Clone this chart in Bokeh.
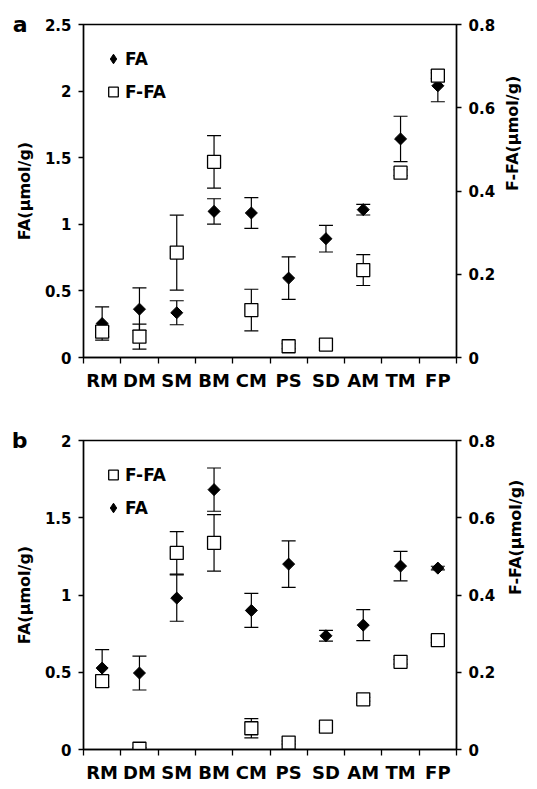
import math
from bokeh.plotting import figure
from bokeh.models import (Range1d, LinearAxis, FixedTicker, Whisker, TeeHead,
                          ColumnDataSource, Legend, LegendItem,
                          NumeralTickFormatter)
from bokeh.layouts import column
from bokeh.embed import file_html
from bokeh.resources import INLINE

categories = ["RM", "DM", "SM", "BM", "CM", "PS", "SD", "AM", "TM", "FP"]

# Panel a
a_fa = [0.255, 0.363, 0.336, 1.097, 1.085, 0.596, 0.892, 1.110, 1.641, 2.040]
a_fa_err = [0.125, 0.160, 0.090, 0.095, 0.115, 0.160, 0.100, 0.040, 0.170, 0.120]
a_ffa = [0.062, 0.050, 0.252, 0.470, 0.114, 0.027, 0.031, 0.210, 0.444, 0.677]
a_ffa_err = [0.012, 0.030, 0.090, 0.063, 0.050, 0.006, 0.006, 0.037, 0.007, 0.007]

# Panel b
b_fa = [0.527, 0.495, 0.980, 1.682, 0.900, 1.200, 0.736, 0.805, 1.187, 1.174]
b_fa_err = [0.120, 0.110, 0.150, 0.140, 0.110, 0.150, 0.035, 0.100, 0.095, 0.012]
b_ffa = [0.177, 0.002, 0.509, 0.535, 0.055, 0.018, 0.059, 0.130, 0.227, 0.283]
b_ffa_err = [0.015, 0.003, 0.055, 0.073, 0.025, 0.004, 0.004, 0.005, 0.006, 0.006]

a_fa_ticks = [0, 0.5, 1, 1.5, 2, 2.5]
b_fa_ticks = [0, 0.5, 1, 1.5, 2]
ffa_ticks = [0, 0.2, 0.4, 0.6, 0.8]

FONT = "DejaVu Sans"


def style_axis(ax, fs="15px"):
    ax.axis_line_color = "black"
    ax.axis_line_width = 1.5
    ax.major_tick_line_color = "black"
    ax.major_tick_line_width = 1.3
    ax.major_tick_in = 0
    ax.major_tick_out = 5
    ax.minor_tick_line_color = None
    ax.major_label_text_font = FONT
    ax.major_label_text_font_style = "bold"
    ax.major_label_text_font_size = fs
    ax.major_label_text_color = "black"
    ax.axis_label_text_font = FONT
    ax.axis_label_text_font_style = "bold"
    ax.axis_label_text_font_size = "16px"
    ax.axis_label_text_color = "black"


def text_axis(ax, fs, standoff):
    # an invisible axis used only to place one text label
    ax.axis_line_color = None
    ax.major_tick_line_color = None
    ax.minor_tick_line_color = None
    ax.major_tick_in = 0
    ax.major_tick_out = 0
    ax.major_label_standoff = standoff
    ax.major_label_text_font = FONT
    ax.major_label_text_font_style = "bold"
    ax.major_label_text_font_size = fs
    ax.major_label_text_color = "black"


def make_panel(letter, fa, fa_err, ffa, ffa_err, fa_ticks, order, width, height,
               bl, br, bt, bb, rlab_standoff):
    n = len(categories)
    xs = [i + 0.5 for i in range(n)]
    src = ColumnDataSource(dict(
        x=xs, fa=fa,
        fa_lo=[v - e for v, e in zip(fa, fa_err)],
        fa_hi=[v + e for v, e in zip(fa, fa_err)],
        ffa=ffa,
        ffa_lo=[v - e for v, e in zip(ffa, ffa_err)],
        ffa_hi=[v + e for v, e in zip(ffa, ffa_err)],
    ))
    p = figure(width=width, height=height, title=None,
               x_range=Range1d(0, n), y_range=Range1d(fa_ticks[0], fa_ticks[-1]),
               output_backend="svg", toolbar_location=None,
               min_border_left=bl, min_border_right=br,
               min_border_top=bt, min_border_bottom=bb)
    p.extra_y_ranges = {"r": Range1d(ffa_ticks[0], ffa_ticks[-1]),
                        "hidden": Range1d(-100, -99)}
    p.xgrid.visible = False
    p.ygrid.visible = False
    p.outline_line_color = "black"
    p.outline_line_width = 1.3
    p.background_fill_color = "white"
    p.border_fill_color = "white"

    # x axis
    xa = p.xaxis[0]
    style_axis(xa, "18px")
    xa.ticker = FixedTicker(ticks=xs, minor_ticks=list(range(n + 1)))
    xa.major_label_overrides = {x: c for x, c in zip(xs, categories)}
    xa.major_tick_line_color = None
    xa.major_tick_out = 6
    xa.minor_tick_line_color = "black"
    xa.minor_tick_line_width = 1.3
    xa.minor_tick_in = 0
    xa.minor_tick_out = 6
    xa.major_label_standoff = 6

    # left axis
    ya = p.yaxis[0]
    style_axis(ya)
    ya.ticker = FixedTicker(ticks=fa_ticks)
    ya.formatter = NumeralTickFormatter(format="0.[0]")
    ya.axis_label = "FA(μmol/g)"
    ya.major_label_standoff = 7
    ya.axis_label_standoff = 8

    # panel letter
    la = LinearAxis(ticker=FixedTicker(ticks=[fa_ticks[-1]]),
                    major_label_overrides={fa_ticks[-1]: letter})
    text_axis(la, "22px", -16)
    p.add_layout(la, "left")

    # right axis
    ra = LinearAxis(y_range_name="r", ticker=FixedTicker(ticks=ffa_ticks),
                    formatter=NumeralTickFormatter(format="0.[0]"))
    style_axis(ra)
    ra.major_label_standoff = 7
    p.add_layout(ra, "right")

    # right axis title, reading bottom to top
    mid = (ffa_ticks[0] + ffa_ticks[-1]) / 2
    rl = LinearAxis(y_range_name="r", ticker=FixedTicker(ticks=[mid]),
                    major_label_overrides={mid: "F-FA(μmol/g)"},
                    major_label_orientation=math.pi / 2)
    text_axis(rl, "16px", rlab_standoff)
    p.add_layout(rl, "right")

    # error bars
    head = dict(size=14, line_color="black", line_width=1.2)
    w1 = Whisker(source=src, base="x", lower="fa_lo", upper="fa_hi",
                 line_color="black", line_width=1.2,
                 upper_head=TeeHead(**head), lower_head=TeeHead(**head))
    w2 = Whisker(source=src, base="x", lower="ffa_lo", upper="ffa_hi",
                 y_range_name="r", line_color="black", line_width=1.2,
                 upper_head=TeeHead(**head), lower_head=TeeHead(**head))
    p.add_layout(w1)
    p.add_layout(w2)

    p.scatter("x", "fa", source=src, marker="square", angle=math.pi / 4,
              size=8.5, fill_color="black", line_color="black", line_width=1)
    p.scatter("x", "ffa", source=src, marker="square", y_range_name="r",
              size=13, fill_color="white", line_color="black", line_width=1.3)

    # legend swatches: same data on a range that is out of view
    l_fa = p.scatter("x", "fa", source=src, y_range_name="hidden",
                     marker="diamond", size=16,
                     fill_color="black", line_color="black")
    l_ffa = p.scatter("x", "ffa", source=src, y_range_name="hidden",
                      marker="square", size=10,
                      fill_color="white", line_color="black", line_width=1.3)

    items = {"FA": LegendItem(label="FA", renderers=[l_fa]),
             "F-FA": LegendItem(label="F-FA", renderers=[l_ffa])}
    leg = Legend(items=[items[k] for k in order], location="top_left",
                 margin=4, padding=14, spacing=0,
                 glyph_width=24, glyph_height=33, label_height=33,
                 label_standoff=0,
                 label_text_font=FONT, label_text_font_style="bold",
                 label_text_font_size="17px", label_text_color="black",
                 border_line_alpha=0, background_fill_alpha=0)
    p.add_layout(leg)
    return p


pa = make_panel("a", a_fa, a_fa_err, a_ffa, a_ffa_err, a_fa_ticks, ["FA", "F-FA"],
                537, 401, 83, 74, 24, 44, 14)
pb = make_panel("b", b_fa, b_fa_err, b_ffa, b_ffa_err, b_fa_ticks, ["F-FA", "FA"],
                537, 384, 82, 80, 39, 26, 17)

layout = column(pa, pb, spacing=0)
open("out.html", "w").write(file_html(layout, INLINE))
